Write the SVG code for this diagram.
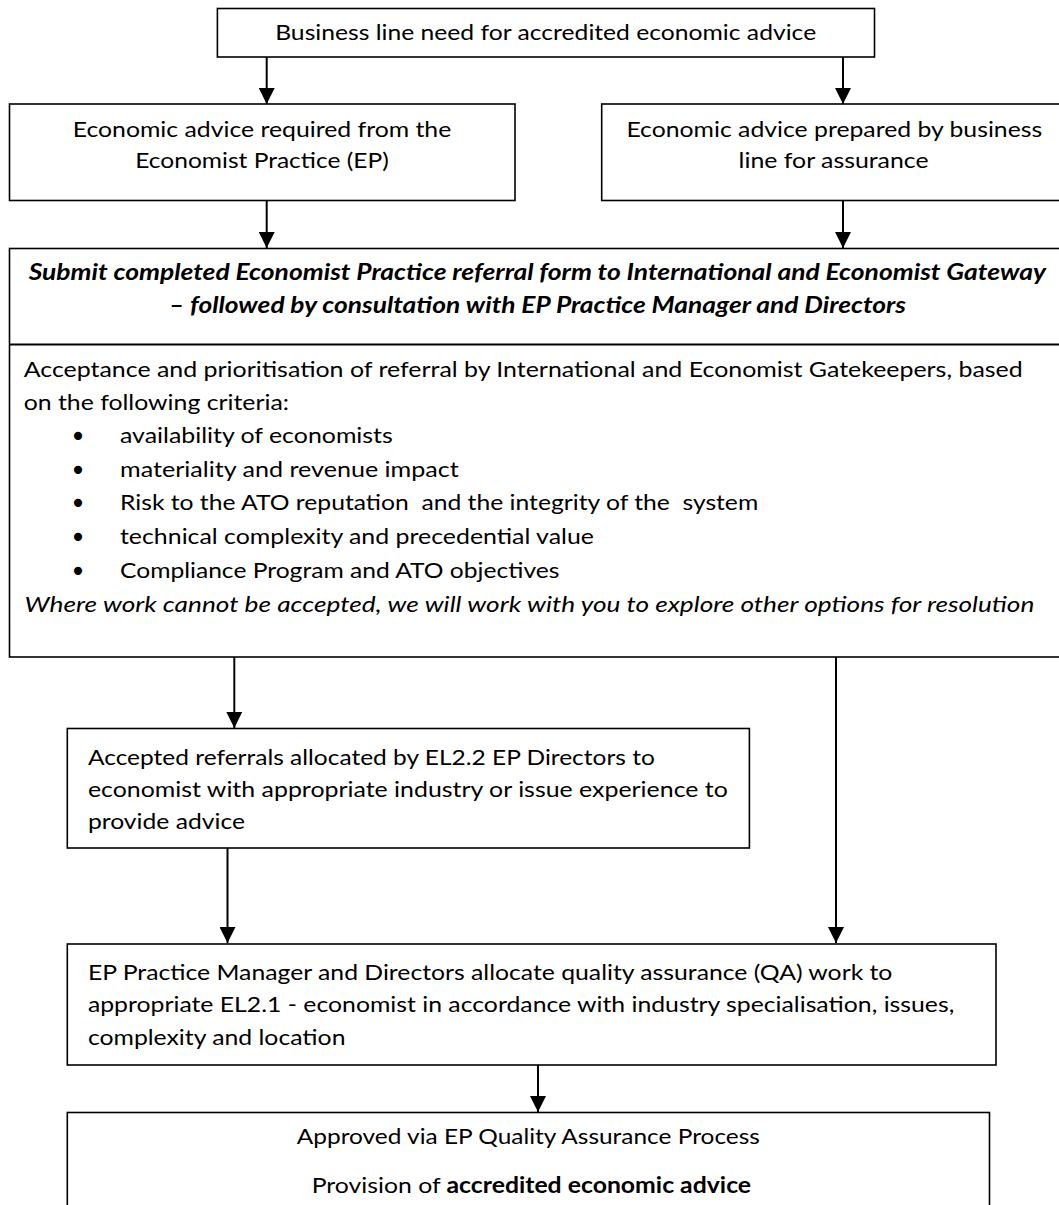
<svg xmlns="http://www.w3.org/2000/svg" width="1059" height="1205" viewBox="0 0 1059 1205">
<defs>
<marker id="ah" markerUnits="userSpaceOnUse" markerWidth="16" markerHeight="16" refX="16" refY="8" orient="auto" viewBox="0 0 16 16">
<path d="M0,0 L16,8 L0,16 Z" fill="#000"/>
</marker>
<style>
.box{fill:#fff;stroke:#000;stroke-width:1.6}
.t{font-family:Lato,"Open Sans","Liberation Sans",sans-serif;font-size:22px;fill:#000}
.bi{font-weight:bold;font-style:italic}
.i{font-style:italic}
.b{font-weight:bold}
.bul{font-family:"DejaVu Sans",sans-serif;font-size:28px;fill:#000}
.c{stroke:#000;stroke-width:2;fill:none}
</style>
</defs>
<rect width="1059" height="1205" fill="#fff"/>

<g id="connectors">
<line class="c" x1="266.7" y1="57" x2="266.7" y2="104" marker-end="url(#ah)"/>
<line class="c" x1="843" y1="57" x2="843" y2="104" marker-end="url(#ah)"/>
<line class="c" x1="266.7" y1="200" x2="266.7" y2="248" marker-end="url(#ah)"/>
<line class="c" x1="843" y1="200" x2="843" y2="248" marker-end="url(#ah)"/>
<line class="c" x1="234.3" y1="657" x2="234.3" y2="728" marker-end="url(#ah)"/>
<line class="c" x1="836" y1="657" x2="836" y2="943" marker-end="url(#ah)"/>
<line class="c" x1="227.5" y1="848" x2="227.5" y2="943" marker-end="url(#ah)"/>
<line class="c" x1="538" y1="1065" x2="538" y2="1112" marker-end="url(#ah)"/>
</g>

<g id="need">
<rect class="box" x="217.4" y="8.5" width="657.1" height="48.5"/>
<text class="t" x="275.2" y="40" textLength="541" lengthAdjust="spacingAndGlyphs">Business line need for accredited economic advice</text>
</g>

<g id="ep-required">
<rect class="box" x="9.5" y="104" width="505.5" height="96.5"/>
<text class="t" x="72.7" y="137" textLength="378.6" lengthAdjust="spacingAndGlyphs">Economic advice required from the</text>
<text class="t" x="135.2" y="168" textLength="253.6" lengthAdjust="spacingAndGlyphs">Economist Practice (EP)</text>
</g>

<g id="bl-prepared">
<rect class="box" x="601.7" y="104" width="470" height="96.5"/>
<text class="t" x="626.4" y="137" textLength="415.8" lengthAdjust="spacingAndGlyphs">Economic advice prepared by business</text>
<text class="t" x="738.6" y="168" textLength="190" lengthAdjust="spacingAndGlyphs">line for assurance</text>
</g>

<g id="referral">
<rect class="box" x="9.5" y="248.5" width="1062" height="408.5"/>
<line x1="9.5" y1="344.5" x2="1071.5" y2="344.5" stroke="#000" stroke-width="2"/>
<text class="t bi" x="28.7" y="280" textLength="1017.3" lengthAdjust="spacingAndGlyphs">Submit completed Economist Practice referral form to International and Economist Gateway</text>
<text class="t bi" x="169" y="313" textLength="737" lengthAdjust="spacingAndGlyphs">– followed by consultation with EP Practice Manager and Directors</text>
<text class="t" x="23.7" y="377" textLength="999" lengthAdjust="spacingAndGlyphs">Acceptance and prioritisation of referral by International and Economist Gatekeepers, based</text>
<text class="t" x="23.7" y="410" textLength="265.3" lengthAdjust="spacingAndGlyphs">on the following criteria:</text>
<text class="bul" x="78" y="446" text-anchor="middle">•</text>
<text class="t" x="120" y="443" textLength="272.8" lengthAdjust="spacingAndGlyphs">availability of economists</text>
<text class="bul" x="78" y="480" text-anchor="middle">•</text>
<text class="t" x="120" y="477" textLength="338.8" lengthAdjust="spacingAndGlyphs">materiality and revenue impact</text>
<text class="bul" x="78" y="513" text-anchor="middle">•</text>
<text class="t" x="120" y="510" textLength="638.2" lengthAdjust="spacingAndGlyphs" xml:space="preserve">Risk to the ATO reputation  and the integrity of the  system</text>
<text class="bul" x="78" y="547" text-anchor="middle">•</text>
<text class="t" x="120" y="544" textLength="473.9" lengthAdjust="spacingAndGlyphs">technical complexity and precedential value</text>
<text class="bul" x="78" y="581" text-anchor="middle">•</text>
<text class="t" x="120" y="578" textLength="439.4" lengthAdjust="spacingAndGlyphs">Compliance Program and ATO objectives</text>
<text class="t i" x="24.5" y="612" textLength="1009.9" lengthAdjust="spacingAndGlyphs">Where work cannot be accepted, we will work with you to explore other options for resolution</text>
</g>

<g id="allocated">
<rect class="box" x="67.3" y="728.5" width="682.1" height="119.5"/>
<text class="t" x="87.9" y="765" textLength="566.9" lengthAdjust="spacingAndGlyphs">Accepted referrals allocated by EL2.2 EP Directors to</text>
<text class="t" x="87.9" y="797" textLength="639.9" lengthAdjust="spacingAndGlyphs">economist with appropriate industry or issue experience to</text>
<text class="t" x="87.9" y="829" textLength="157.1" lengthAdjust="spacingAndGlyphs">provide advice</text>
</g>

<g id="qa-allocate">
<rect class="box" x="67.3" y="944" width="928.7" height="121"/>
<text class="t" x="87.9" y="980" textLength="804.5" lengthAdjust="spacingAndGlyphs">EP Practice Manager and Directors allocate quality assurance (QA) work to</text>
<text class="t" x="87.9" y="1012" textLength="866.4" lengthAdjust="spacingAndGlyphs">appropriate EL2.1 - economist in accordance with industry specialisation, issues,</text>
<text class="t" x="87.9" y="1045" textLength="257.6" lengthAdjust="spacingAndGlyphs">complexity and location</text>
</g>

<g id="approved">
<rect class="box" x="67.3" y="1112.5" width="922.2" height="110"/>
<text class="t" x="296.8" y="1144" textLength="463.1" lengthAdjust="spacingAndGlyphs">Approved via EP Quality Assurance Process</text>
<text class="t" x="311.7" y="1193" textLength="439.4" lengthAdjust="spacingAndGlyphs">Provision of <tspan class="b">accredited economic advice</tspan></text>
</g>
</svg>
